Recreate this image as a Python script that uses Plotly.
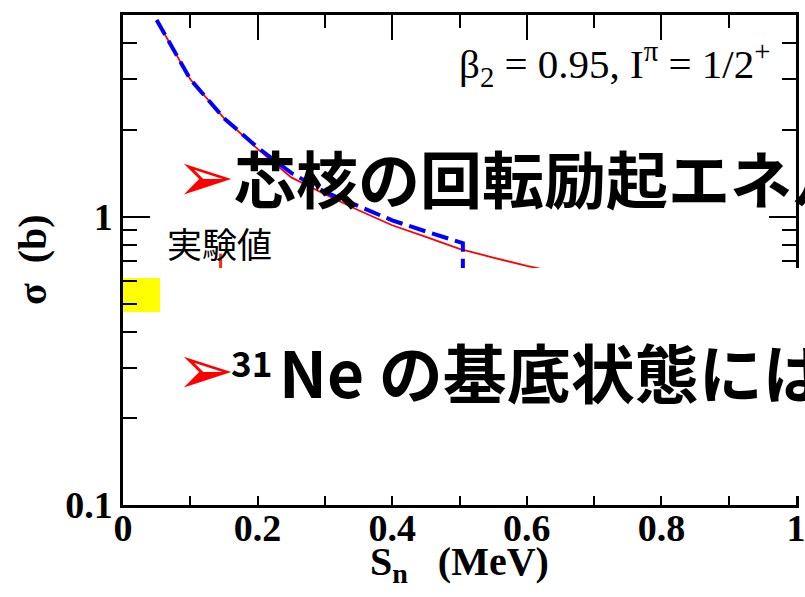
import plotly.graph_objects as go

# Breakup cross section vs one-neutron separation energy
sn = [0.05, 0.10, 0.15, 0.20, 0.25, 0.30, 0.35, 0.40, 0.45, 0.50, 0.55, 0.60, 0.65]
sigma_full = [4.82, 3.00, 2.20, 1.72, 1.37, 1.197, 1.054, 0.935, 0.852, 0.774, 0.722, 0.676, 0.638]

sn_dash = [0.05, 0.10, 0.15, 0.20, 0.25, 0.30, 0.35, 0.40, 0.45, 0.50, 0.505, 0.505]
sigma_dash = [4.82, 3.00, 2.20, 1.74, 1.42, 1.22, 1.09, 0.972, 0.89, 0.815, 0.81, 0.50]

# Experimental value: band and error bar
exp_band_sn = [0.0, 0.055]
exp_band_sigma = [0.467, 0.613]
exp_sn = [0.145, 0.145]
exp_sigma = [0.55, 0.745]

x_tickvals = [0, 0.2, 0.4, 0.6, 0.8, 1.0]
x_ticktext = ["0", "0.2", "0.4", "0.6", "0.8", "1"]
y_tickvals = [0.1, 1]
y_ticktext = ["0.1", "1"]
y_minorvals = [0.2, 0.3, 0.4, 0.5, 0.6, 0.7, 0.8, 0.9, 2, 3, 4, 5]

serif = "Liberation Serif"
jp = "Noto Sans CJK JP"

# plot area in pixels: left 123, right 796, top 15, bottom 505
L, R, T, B = 123, 796, 15, 505


def px(x):
    return (x - L) / (R - L)


def py(y):
    return (B - y) / (B - T)


fig = go.Figure()

fig.add_trace(go.Scatter(
    x=[exp_band_sn[0], exp_band_sn[1], exp_band_sn[1], exp_band_sn[0], exp_band_sn[0]],
    y=[exp_band_sigma[0], exp_band_sigma[0], exp_band_sigma[1], exp_band_sigma[1], exp_band_sigma[0]],
    mode="lines", fill="toself", fillcolor="#ffff00", line=dict(width=0),
    hoverinfo="skip", showlegend=False))

fig.add_trace(go.Scatter(x=sn, y=sigma_full, mode="lines",
                         line=dict(color="#ff0000", width=1.8), showlegend=False))
fig.add_trace(go.Scatter(x=sn_dash, y=sigma_dash, mode="lines",
                         line=dict(color="#0000ff", width=4, dash="17px,7px"),
                         showlegend=False))
fig.add_trace(go.Scatter(x=exp_sn, y=exp_sigma, mode="lines",
                         line=dict(color="#ff2a00", width=3), showlegend=False))

axis_common = dict(showline=True, linecolor="black", linewidth=2.5, mirror="ticks",
                   ticks="inside", tickcolor="black", tickwidth=2,
                   showgrid=False, zeroline=False, automargin=False,
                   ticklabeloverflow="allow",
                   tickfont=dict(family=serif, size=38, color="black", weight="bold"))

fig.update_xaxes(range=[0, 1], tickmode="array", tickvals=x_tickvals, ticktext=x_ticktext,
                 ticklen=25, ticklabelstandoff=-12,
                 minor=dict(dtick=0.1, tick0=0, ticks="inside", ticklen=13,
                            tickcolor="black", tickwidth=2, showgrid=False),
                 **axis_common)
fig.update_yaxes(type="log", range=[-1, 0.7003], tickmode="array",
                 tickvals=y_tickvals, ticktext=y_ticktext, ticklen=27,
                 minor=dict(tickmode="array", tickvals=y_minorvals, ticks="inside",
                            ticklen=14, tickcolor="black", tickwidth=2, showgrid=False),
                 **axis_common)

# White panel overlaying the lower right of the frame
fig.add_shape(type="rect", xref="paper", yref="paper",
              x0=px(165), x1=1.05, y0=py(496), y1=py(268),
              fillcolor="white", line=dict(width=0), layer="above")

annotations = [
    # axis titles
    dict(text="<b>S<sub>n</sub>   (MeV)</b>", x=0.5, y=py(537), xanchor="center", yanchor="top",
         font=dict(family=serif, size=40, color="black")),
    dict(text="<b>σ  (b)</b>", x=px(32), y=0.5, xanchor="center", yanchor="middle",
         textangle=-90, font=dict(family=serif, size=40, color="black")),
    # parameter label
    dict(text="β<sub>2</sub> = 0.95, I<sup>π</sup> = 1/2<sup>+</sup>",
         x=px(772), y=py(64), xanchor="right", yanchor="middle",
         font=dict(family=serif, size=41, color="black")),
    dict(text="実験値", x=px(165), y=py(242), xanchor="left", yanchor="middle",
         font=dict(family=jp, size=35, color="black")),
    # bullet lines
    dict(text="➢", x=px(205), y=py(177), xanchor="center", yanchor="middle",
         font=dict(family="DejaVu Sans", size=70, color="#ff0000")),
    dict(text="芯核の回転励起エネルギー", x=px(232), y=py(177),
         xanchor="left", yanchor="middle",
         font=dict(family=jp, size=62, color="black", weight="bold")),
    dict(text="➢", x=px(205), y=py(370), xanchor="center", yanchor="middle",
         font=dict(family="DejaVu Sans", size=70, color="#ff0000")),
    dict(text="31", x=px(229), y=py(361), xanchor="left", yanchor="middle",
         font=dict(family=jp, size=35, color="black", weight="bold")),
    dict(text="Ne の基底状態には", x=px(277), y=py(370),
         xanchor="left", yanchor="middle",
         font=dict(family=jp, size=64, color="black", weight="bold")),
]
for a in annotations:
    a.update(xref="paper", yref="paper", showarrow=False)
fig.update_layout(annotations=annotations)

fig.update_layout(width=805, height=597,
                  margin=dict(l=L, r=805 - R, t=T, b=597 - B, pad=0),
                  paper_bgcolor="white", plot_bgcolor="white")

fig.write_html("out.html")
